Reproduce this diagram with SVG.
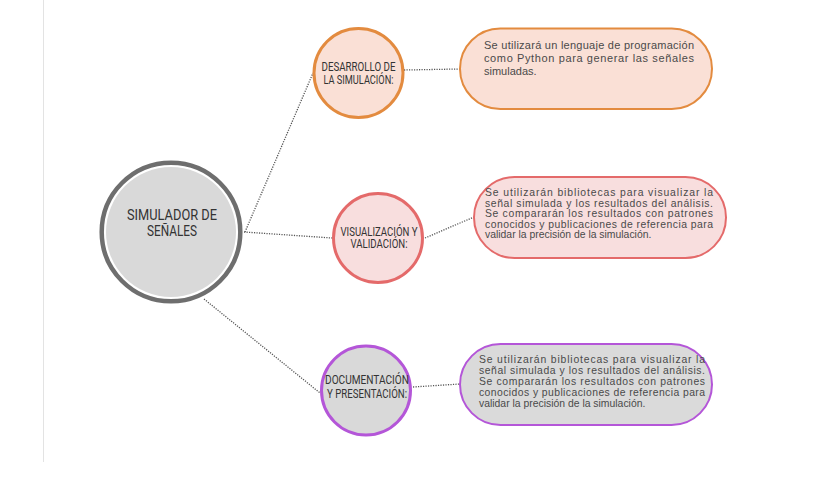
<svg xmlns="http://www.w3.org/2000/svg" width="819" height="480" viewBox="0 0 819 480">
<style>
.conn{fill:none;stroke:#555;stroke-width:1.3;stroke-dasharray:1.2 1.3}
.lbl{font-family:Roboto,"Liberation Sans",sans-serif;font-size:12px;fill:#333;text-anchor:middle}
.big{font-family:Roboto,"Liberation Sans",sans-serif;font-size:14px;fill:#333;text-anchor:middle}
.body{font-family:"Liberation Sans",Arial,sans-serif;font-size:11px;fill:#4a4a4a}
.sm{font-size:10.4px}
.pill{stroke-width:2}
.o{fill:#FAE0D6;stroke:#E38B3F}
.r{fill:#F8DEDE;stroke:#E46A6A}
.p{fill:#DADADA;stroke:#B456D8}
</style>
<rect width="819" height="480" fill="#fff"/>
<line x1="43.5" y1="0" x2="43.5" y2="462" stroke="#e3e3e3" stroke-width="1"/>
<g id="connectors">
<path class="conn" d="M245 232 L313 73"/>
<path class="conn" d="M244 232 L332 238"/>
<path class="conn" d="M204 299 L320 393"/>
<path class="conn" d="M404 70 L460 69"/>
<path class="conn" d="M425 238 L474 217"/>
<path class="conn" d="M413 387 L460 384"/>
</g>
<g id="central">
<circle cx="171" cy="232" r="69.3" fill="#fff" stroke="#6e6e6e" stroke-width="4.5"/>
<circle cx="171" cy="232" r="65" fill="#D9D9D9"/>
<text class="big" x="172" y="219.5" textLength="90" lengthAdjust="spacingAndGlyphs">SIMULADOR DE</text>
<text class="big" x="172" y="235.5" textLength="50" lengthAdjust="spacingAndGlyphs">SEÑALES</text>
</g>
<g id="desarrollo">
<circle class="o" cx="358.5" cy="73" r="44.5" stroke-width="3"/>
<text class="lbl" x="358.5" y="71" textLength="74" lengthAdjust="spacingAndGlyphs">DESARROLLO DE</text>
<text class="lbl" x="358.5" y="83.5" textLength="70" lengthAdjust="spacingAndGlyphs">LA SIMULACIÓN:</text>
</g>
<g id="visualizacion">
<circle class="r" cx="378" cy="238" r="44.5" stroke-width="3"/>
<text class="lbl" x="379" y="235.5" textLength="77" lengthAdjust="spacingAndGlyphs">VISUALIZACIÓN Y</text>
<text class="lbl" x="379" y="248" textLength="57" lengthAdjust="spacingAndGlyphs">VALIDACIÓN:</text>
</g>
<g id="documentacion">
<circle class="p" cx="366" cy="390.5" r="44.5" stroke-width="3" style="fill:#D9D9D9"/>
<text class="lbl" x="367" y="384" textLength="84" lengthAdjust="spacingAndGlyphs">DOCUMENTACIÓN</text>
<text class="lbl" x="367" y="397.5" textLength="80" lengthAdjust="spacingAndGlyphs">Y PRESENTACIÓN:</text>
</g>
<g id="texto-desarrollo">
<rect class="pill o" x="460" y="28.5" width="252" height="80.5" rx="40.25"/>
<text class="body" x="484" y="49" textLength="210" lengthAdjust="spacing">Se utilizará un lenguaje de programación</text>
<text class="body" x="484" y="62" textLength="210" lengthAdjust="spacing">como Python para generar las señales</text>
<text class="body" x="484" y="75">simuladas.</text>
</g>
<g id="texto-visualizacion">
<rect class="pill r" x="474" y="177" width="252" height="81" rx="40.5"/>
<text class="body sm" x="485" y="196" textLength="228" lengthAdjust="spacing">Se utilizarán bibliotecas para visualizar la</text>
<text class="body sm" x="485" y="206.6" textLength="228" lengthAdjust="spacing">señal simulada y los resultados del análisis.</text>
<text class="body sm" x="485" y="217.2" textLength="228" lengthAdjust="spacing">Se compararán los resultados con patrones</text>
<text class="body sm" x="485" y="227.8" textLength="228" lengthAdjust="spacing">conocidos y publicaciones de referencia para</text>
<text class="body sm" x="485" y="238.4">validar la precisión de la simulación.</text>
</g>
<g id="texto-documentacion">
<rect class="pill p" x="460" y="344" width="252" height="81" rx="40.5"/>
<text class="body sm" x="479" y="362.5" textLength="226" lengthAdjust="spacing">Se utilizarán bibliotecas para visualizar la</text>
<text class="body sm" x="479" y="373.5" textLength="226" lengthAdjust="spacing">señal simulada y los resultados del análisis.</text>
<text class="body sm" x="479" y="384.5" textLength="226" lengthAdjust="spacing">Se compararán los resultados con patrones</text>
<text class="body sm" x="479" y="395.5" textLength="226" lengthAdjust="spacing">conocidos y publicaciones de referencia para</text>
<text class="body sm" x="479" y="406.5">validar la precisión de la simulación.</text>
</g>
</svg>
